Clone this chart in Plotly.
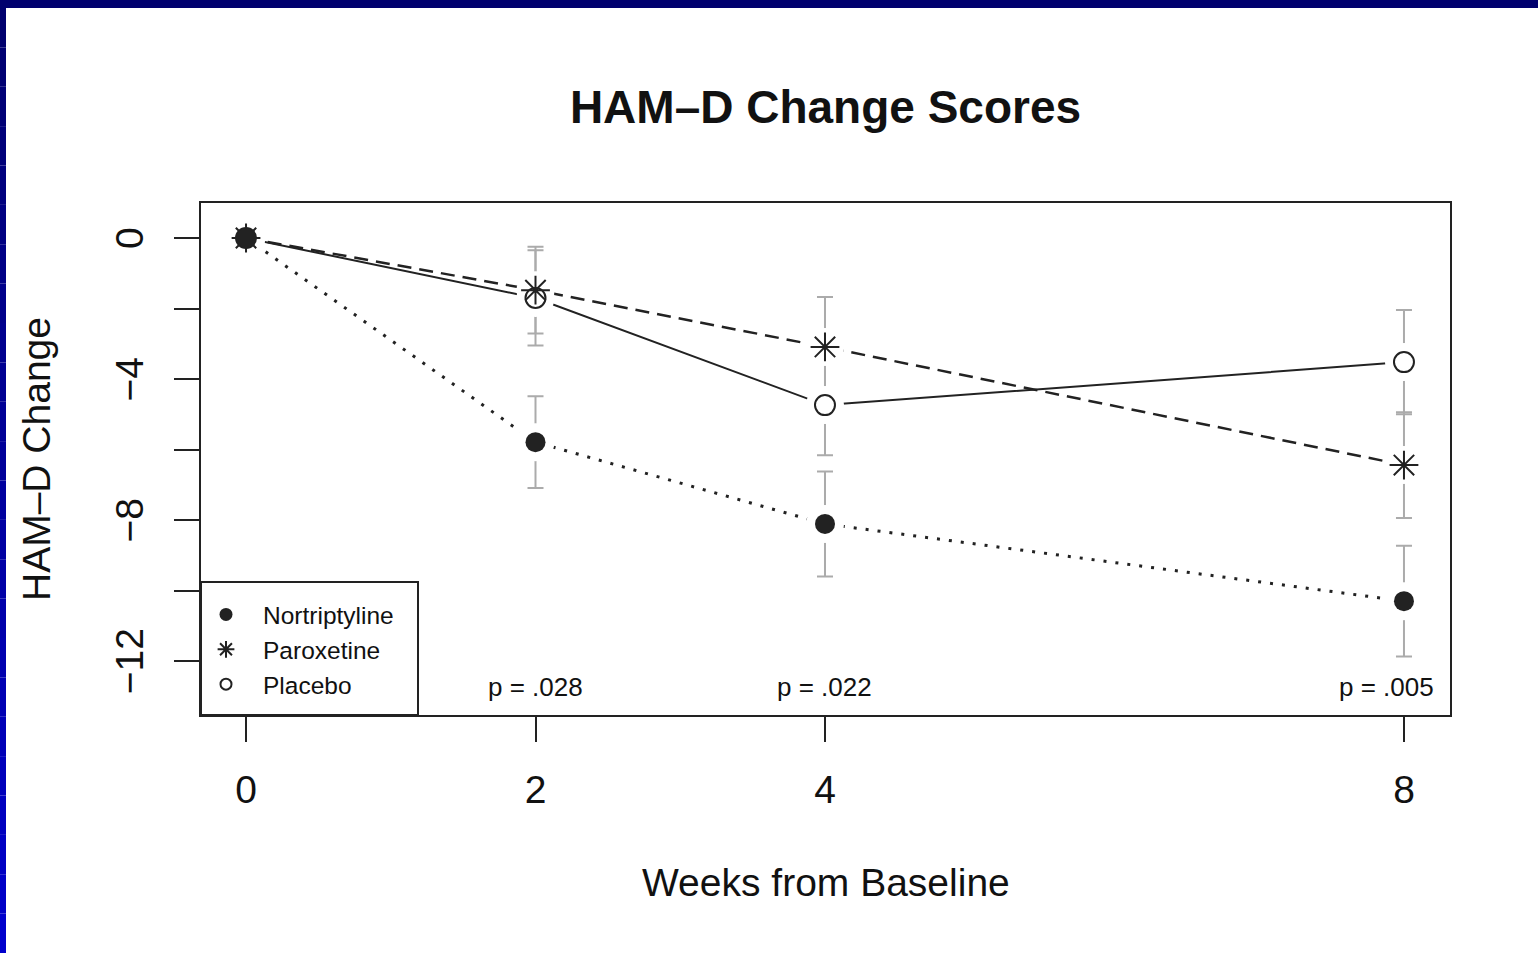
import plotly.graph_objects as go

# ---- data ----
weeks = [0, 2, 4, 8]
groups = ["Nortriptyline", "Paroxetine", "Placebo"]
nort_mean = [0, -5.79, -8.11, -10.30]
nort_se = [float("nan"), 1.30, 1.49, 1.57]
parox_mean = [0, -1.48, -3.09, -6.44]
parox_se = [float("nan"), 1.23, 1.42, 1.50]
plac_mean = [0, -1.70, -4.74, -3.52]
plac_se = [float("nan"), 1.35, 1.42, 1.48]
p_weeks = [2, 4, 8]
p_labels = ["p = .028", "p = .022", "p = .005"]
y_ticks = [0, -2, -4, -6, -8, -10, -12]
y_ticktext = ["0", "", "−4", "", "−8", "", "−12"]
x_ticks = [0, 2, 4, 8]

FONT = "Liberation Sans, Arial, Helvetica, sans-serif"
INK = "#111111"
LINE = "#222222"
ERR = "#ababab"

series = [
    dict(name="Nortriptyline", y=nort_mean, se=nort_se, dash="3px,9px", width=3,
         sym="circle", msize=20, lw=0, leg_sym="circle", leg_size=13),
    dict(name="Paroxetine", y=parox_mean, se=parox_se, dash="14px,8px", width=2.5,
         sym="asterisk-open", msize=24, lw=2, leg_sym="asterisk-open", leg_size=14),
    dict(name="Placebo", y=plac_mean, se=plac_se, dash="solid", width=2,
         sym="circle-open", msize=20, lw=2, leg_sym="circle-open", leg_size=11),
]

fig = go.Figure()

# connecting lines
for s in series:
    fig.add_trace(go.Scatter(
        x=weeks, y=s["y"], mode="lines",
        line=dict(color=LINE, width=s["width"], dash=s["dash"]),
        showlegend=False, hoverinfo="skip"))

# error bars (grey)
for s in series:
    fig.add_trace(go.Scatter(
        x=weeks, y=s["y"], mode="markers",
        marker=dict(size=1, opacity=0),
        error_y=dict(type="data", array=s["se"], symmetric=True,
                     color=ERR, thickness=2, width=8),
        showlegend=False, hoverinfo="skip"))

# white halos leaving gaps around the points (like R type="b")
for s in series:
    fig.add_trace(go.Scatter(
        x=weeks, y=s["y"], mode="markers",
        marker=dict(size=38, color="white", line=dict(width=0)),
        showlegend=False, hoverinfo="skip"))

# point markers (placebo first, nortriptyline on top)
for s in reversed(series):
    fig.add_trace(go.Scatter(
        x=weeks, y=s["y"], mode="markers", name=s["name"],
        marker=dict(symbol=s["sym"], size=s["msize"], color=LINE,
                    line=dict(width=s["lw"], color=LINE)),
        showlegend=False))

# legend entries (symbols only)
for s in series:
    fig.add_trace(go.Scatter(
        x=[None], y=[None], mode="markers", name=s["name"],
        marker=dict(symbol=s["leg_sym"], size=s["leg_size"], color=LINE,
                    line=dict(width=2 if s["lw"] else 0, color=LINE)),
        showlegend=True))

# p-value labels
for w, lab in zip(p_weeks, p_labels):
    last = w == max(p_weeks)
    fig.add_annotation(x=w + 0.22 if last else w, y=-12.74, text=lab,
                       showarrow=False, xanchor="right" if last else "center",
                       yanchor="middle",
                       font=dict(family=FONT, size=26, color=INK))

# axis titles
fig.add_annotation(xref="paper", yref="paper", x=0.5, y=-0.328,
                   text="Weeks from Baseline", showarrow=False,
                   xanchor="center", yanchor="middle",
                   font=dict(family=FONT, size=39, color=INK))
fig.add_annotation(xref="paper", yref="paper", x=-0.1321, y=0.5,
                   text="HAM–D Change", showarrow=False, textangle=-90,
                   xanchor="center", yanchor="middle",
                   font=dict(family=FONT, size=39, color=INK))

# presentation frame (blue border of the slide)
W, H = 1538, 953
L, R, T, B = 201, 88, 203, 238
pw, ph = W - L - R, H - T - B
def px(xp):
    return (xp - L) / pw
def py(yp):
    return (H - B - yp) / ph
shapes = [dict(type="rect", xref="paper", yref="paper",
               x0=px(0), x1=px(W), y0=py(8), y1=py(0),
               fillcolor="#00006e", line=dict(width=0), layer="below")]
nseg = 24
for i in range(nseg):
    t = i / (nseg - 1)
    g = int(0x6e + (0xcc - 0x6e) * t)
    y0p = 8 + (H - 8) * i / nseg
    y1p = 8 + (H - 8) * (i + 1) / nseg
    shapes.append(dict(type="rect", xref="paper", yref="paper",
                       x0=px(0), x1=px(6), y0=py(y1p), y1=py(y0p),
                       fillcolor="rgb(0,0,%d)" % g, line=dict(width=0),
                       layer="below"))
# legend frame
shapes.append(dict(type="rect", xref="paper", yref="paper",
                   x0=0, x1=px(418), y0=0, y1=py(582),
                   fillcolor="white", line=dict(width=2, color=LINE),
                   layer="above"))
fig.update_layout(shapes=shapes)

fig.update_layout(
    width=W, height=H,
    margin=dict(l=L, r=R, t=T, b=B, autoexpand=False),
    paper_bgcolor="white", plot_bgcolor="white",
    font=dict(family=FONT, color=INK),
    title=dict(text="<b>HAM–D Change Scores</b>", x=0.5, xref="paper",
               y=1 - 107 / H, yref="container", xanchor="center",
               yanchor="middle", font=dict(family=FONT, size=46, color=INK)),
    xaxis=dict(range=[-0.311, 8.318], tickvals=x_ticks,
               ticktext=[str(v) for v in x_ticks],
               showgrid=False, zeroline=False,
               showline=True, mirror=True, linecolor=LINE, linewidth=2,
               ticks="outside", ticklen=25, tickwidth=2, tickcolor=LINE,
               tickfont=dict(family=FONT, size=39, color=INK),
               ticklabelstandoff=14),
    yaxis=dict(range=[-13.53, 0.993], tickvals=y_ticks, ticktext=y_ticktext,
               showgrid=False, zeroline=False,
               showline=True, mirror=True, linecolor=LINE, linewidth=2,
               ticks="outside", ticklen=25, tickwidth=2, tickcolor=LINE,
               tickangle=-90,
               tickfont=dict(family=FONT, size=39, color=INK),
               ticklabelstandoff=15, ticklabelshift=6),
    legend=dict(x=px(189), y=py(592), xanchor="left", yanchor="top",
                xref="paper", yref="paper",
                bgcolor="rgba(0,0,0,0)", borderwidth=0,
                font=dict(family=FONT, size=24.5, color=INK),
                itemwidth=64, tracegroupgap=0),
    showlegend=True,
)

fig.write_html("out.html")
